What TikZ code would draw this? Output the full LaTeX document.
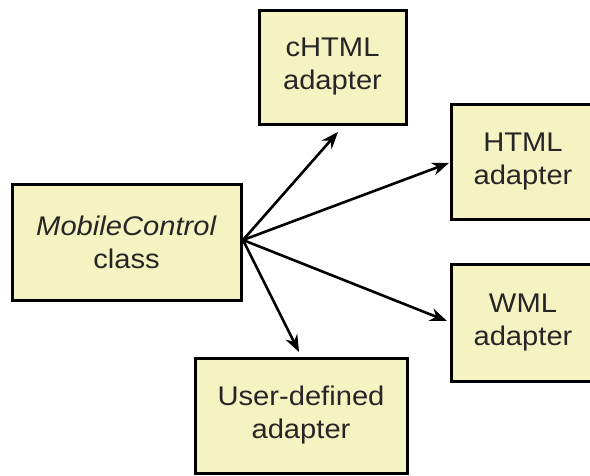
\documentclass[tikz,border=0pt]{standalone}
\usepackage{fontspec}
\setmainfont[FakeStretch=1.08]{Liberation Sans}
\usetikzlibrary{arrows.meta}
\definecolor{boxfill}{HTML}{F6F3C2}
\tikzset{
  adapterbox/.style={draw=black, line width=3pt, fill=boxfill, align=center,
    font=\fontsize{27}{33}\selectfont, text=black!85, inner sep=0pt},
  conn/.style={line width=2.6pt, -{Stealth[length=17pt,width=13pt]}}
}
\begin{document}
\begin{tikzpicture}[x=1pt,y=-1pt]
\useasboundingbox (0,0) rectangle (590,475);
\clip (0,0) rectangle (590,475);
\node[adapterbox, minimum width=229pt, minimum height=116pt] (mc) at (126.5,242) {\textit{MobileControl}\\class};
\node[adapterbox, minimum width=147pt, minimum height=114pt] (chtml) at (332.5,67) {cHTML\\adapter};
\node[adapterbox, minimum width=144pt, minimum height=115pt] (html) at (523,161.5) {HTML\\adapter};
\node[adapterbox, minimum width=144pt, minimum height=117pt] (wml) at (523,322.5) {WML\\adapter};
\node[adapterbox, minimum width=212pt, minimum height=115pt] (user) at (301,415.5) {User-defined\\adapter};
\coordinate (src) at (243,240);
\coordinate (t1) at (338,132);
\coordinate (t2) at (449,163);
\coordinate (t3) at (447,321);
\coordinate (t4) at (299,352);
\draw[conn] (src) -- (t1);
\draw[conn] (src) -- (t2);
\draw[conn] (src) -- (t3);
\draw[conn] (src) -- (t4);
\end{tikzpicture}
\end{document}
